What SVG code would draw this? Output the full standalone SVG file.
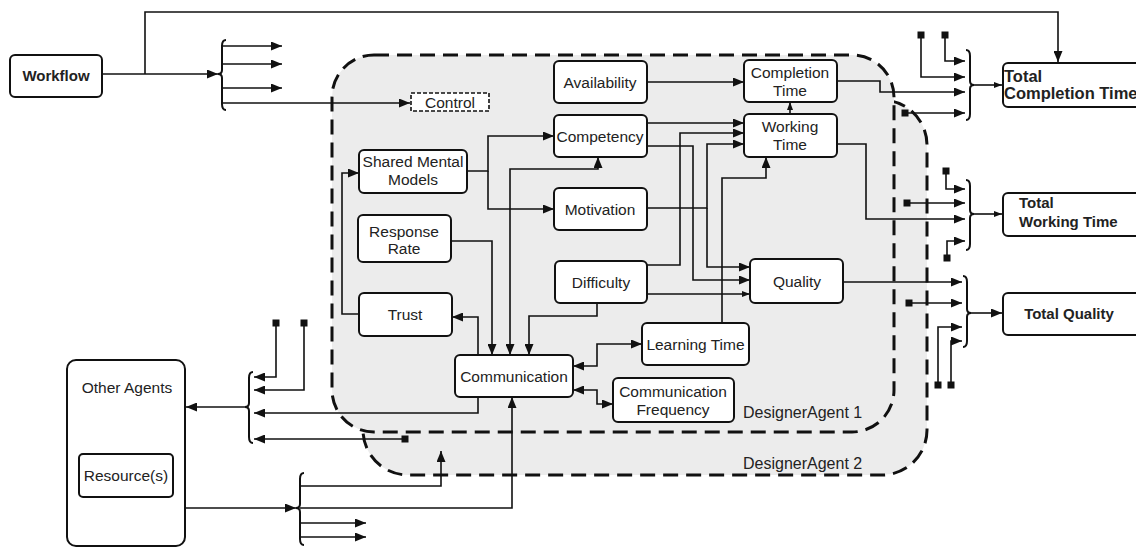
<svg xmlns="http://www.w3.org/2000/svg" width="1136" height="548" viewBox="0 0 1136 548">
<style>
.bg{fill:#fff}
.region{fill:#ececec;stroke:#111;stroke-width:3;stroke-dasharray:15 8}
.node{fill:#fff;stroke:#111;stroke-width:2}
.t{font-family:"Liberation Sans",Arial,sans-serif;font-size:15.5px;fill:#222;text-anchor:middle}
.b{font-family:"Liberation Sans",Arial,sans-serif;font-size:15px;font-weight:bold;fill:#222}
.lbl{font-family:"Liberation Sans",Arial,sans-serif;font-size:16px;fill:#222}
.c{fill:none;stroke:#111;stroke-width:1.6}
.a{marker-end:url(#ah)}
.s{marker-end:url(#sah)}
.d{marker-start:url(#ah);marker-end:url(#ah)}
.br{fill:none;stroke:#111;stroke-width:2}
.sq{fill:#111}
</style>
<defs>
<marker id="ah" markerUnits="userSpaceOnUse" markerWidth="11" markerHeight="9" refX="11" refY="4.5" orient="auto-start-reverse"><path d="M0,0 L11,4.5 L0,9 z" fill="#111"/></marker>
<marker id="sah" markerUnits="userSpaceOnUse" markerWidth="8" markerHeight="6" refX="8" refY="3" orient="auto"><path d="M0,0 L8,3 L0,6 z" fill="#111"/></marker>
</defs>
<rect class="bg" width="1136" height="548"/>
<g id="designer-agent-2">
<rect class="region" x="363" y="100" width="564" height="375" rx="45"/>
<text class="lbl" x="743" y="469">DesignerAgent 2</text>
</g>
<g id="designer-agent-1">
<rect class="region" x="332" y="55" width="562" height="377" rx="42"/>
<text class="lbl" x="743" y="418">DesignerAgent 1</text>
</g>
<g id="connectors">
<path class="c a" d="M102,74 H218"/>
<path class="c a" d="M145,74 V12 H1058 V62"/>
<path class="br" d="M226,40 Q222,40 222,46 V70 Q222,74 218,74 Q222,74 222,78 V104 Q222,110 226,110"/>
<path class="c a" d="M222,46 H282"/>
<path class="c a" d="M222,64 H282"/>
<path class="c a" d="M222,88 H282"/>
<path class="c a" d="M222,103 H410"/>
<path class="c a" d="M647,82 H744"/>
<path class="c s" d="M790,114 V102"/>
<path class="c a" d="M837,81 H880 V92 H965"/>
<path class="c a" d="M921,35 V77 H965"/>
<path class="c a" d="M945,35 V61 H965"/>
<path class="c a" d="M905,113 H965"/>
<path class="br" d="M966,50 Q970,50 970,56 V81 Q970,85 974,85 Q970,85 970,89 V114 Q970,120 966,120"/>
<path class="c s" d="M974,85 H1002"/>
<path class="c a" d="M837,144 H866 V219 H965"/>
<path class="c a" d="M946,171 V189 H965"/>
<path class="c a" d="M907,203 H965"/>
<path class="c a" d="M947,258 V241 H965"/>
<path class="br" d="M966,180 Q970,180 970,186 V210 Q970,214 974,214 Q970,214 970,218 V244 Q970,250 966,250"/>
<path class="c s" d="M974,214 H1002"/>
<path class="c a" d="M843,282 H962"/>
<path class="c a" d="M909,303 H962"/>
<path class="c a" d="M938,385 V327 H962"/>
<path class="c a" d="M951,385 V341 H962"/>
<path class="br" d="M963,276 Q967,276 967,282 V309 Q967,313 971,313 Q967,313 967,317 V341 Q967,347 963,347"/>
<path class="c a" d="M971,313 H1002"/>
<path class="c a" d="M647,123 H744"/>
<path class="c a" d="M647,265 H680 V133 H744"/>
<path class="c a" d="M647,208 H707 V144 H744"/>
<path class="c a" d="M707,208 V267 H750"/>
<path class="c a" d="M647,146 H693 V280 H750"/>
<path class="c s" d="M647,294 H750"/>
<path class="c a" d="M722,323 V178 H766 V157"/>
<path class="c a" d="M467,171 H488 V136 H554"/>
<path class="c a" d="M488,171 V209 H554"/>
<path class="c a" d="M359,314 H342 V173 H359"/>
<path class="c a" d="M478,355 V317 H452"/>
<path class="c a" d="M451,241 H492 V355"/>
<path class="c d" d="M510,355 V169 H598 V157"/>
<path class="c a" d="M597,303 V316 H529 V355"/>
<path class="c d" d="M573,366 H597 V344 H642"/>
<path class="c d" d="M573,390 H597 V404 H613"/>
<path class="c a" d="M478,397 V413 H254"/>
<path class="c a" d="M276,323 V377 H254"/>
<path class="c a" d="M304,323 V390 H254"/>
<path class="c a" d="M405,439 H254"/>
<path class="br" d="M253,372 Q249,372 249,378 V403 Q249,407 245,407 Q249,407 249,411 V437 Q249,443 253,443"/>
<path class="c a" d="M245,407 H186"/>
<path class="c a" d="M185,508 H296"/>
<path class="br" d="M304,473 Q300,473 300,479 V504 Q300,508 296,508 Q300,508 300,512 V539 Q300,545 304,545"/>
<path class="c a" d="M300,486 H441 V451"/>
<path class="c a" d="M300,508 H512 V397"/>
<path class="c a" d="M300,523 H366"/>
<path class="c a" d="M300,537 H366"/>
<rect class="sq" x="917.5" y="31.5" width="7" height="7"/>
<rect class="sq" x="941.5" y="31.5" width="7" height="7"/>
<rect class="sq" x="901.5" y="109.5" width="7" height="7"/>
<rect class="sq" x="942.5" y="167.5" width="7" height="7"/>
<rect class="sq" x="903.5" y="199.5" width="7" height="7"/>
<rect class="sq" x="943.5" y="254.5" width="7" height="7"/>
<rect class="sq" x="905.5" y="299.5" width="7" height="7"/>
<rect class="sq" x="934.5" y="381.5" width="7" height="7"/>
<rect class="sq" x="947.5" y="381.5" width="7" height="7"/>
<rect class="sq" x="272.5" y="319.5" width="7" height="7"/>
<rect class="sq" x="300.5" y="319.5" width="7" height="7"/>
<rect class="sq" x="401.5" y="435.5" width="7" height="7"/>
</g>
<g id="workflow"><rect class="node" x="10" y="55" width="92" height="42" rx="5"/><text class="b" x="56" y="81" text-anchor="middle">Workflow</text></g>
<g id="control"><rect x="411" y="93" width="78" height="18" fill="#fff" stroke="#111" stroke-width="1.6" stroke-dasharray="4 2"/><text class="t" x="450" y="107.5">Control</text></g>
<g id="availability"><rect class="node" x="554" y="61" width="93" height="42" rx="5"/><text class="t" x="600" y="87.5">Availability</text></g>
<g id="competency"><rect class="node" x="554" y="115" width="93" height="42" rx="5"/><text class="t" x="600" y="141.5">Competency</text></g>
<g id="shared-mental-models"><rect class="node" x="359" y="150" width="108" height="43" rx="5"/><text class="t" x="413" y="167">Shared Mental</text><text class="t" x="413" y="185">Models</text></g>
<g id="motivation"><rect class="node" x="554" y="188" width="93" height="42" rx="5"/><text class="t" x="600" y="214.5">Motivation</text></g>
<g id="response-rate"><rect class="node" x="358" y="215" width="93" height="47" rx="5"/><text class="t" x="404" y="237">Response</text><text class="t" x="404" y="254">Rate</text></g>
<g id="difficulty"><rect class="node" x="555" y="261" width="92" height="42" rx="5"/><text class="t" x="601" y="287.5">Difficulty</text></g>
<g id="trust"><rect class="node" x="359" y="293" width="93" height="43" rx="5"/><text class="t" x="405" y="319.5">Trust</text></g>
<g id="communication"><rect class="node" x="455" y="355" width="118" height="42" rx="5"/><text class="t" x="514" y="381.5">Communication</text></g>
<g id="learning-time"><rect class="node" x="642" y="323" width="107" height="42" rx="5"/><text class="t" x="695.5" y="349.5">Learning Time</text></g>
<g id="communication-frequency"><rect class="node" x="613" y="378" width="121" height="44" rx="5"/><text class="t" x="673" y="397">Communication</text><text class="t" x="673" y="415">Frequency</text></g>
<g id="completion-time"><rect class="node" x="744" y="60" width="93" height="42" rx="5"/><text class="t" x="790" y="77.5">Completion</text><text class="t" x="790" y="95.5">Time</text></g>
<g id="working-time"><rect class="node" x="744" y="114" width="93" height="43" rx="5"/><text class="t" x="790" y="131.5">Working</text><text class="t" x="790" y="149.5">Time</text></g>
<g id="quality"><rect class="node" x="750" y="259" width="93" height="44" rx="5"/><text class="t" x="797" y="286.5">Quality</text></g>
<g id="total-completion-time"><rect class="node" x="1003" y="63" width="140" height="44" rx="5"/><text class="b" x="1004" y="82" style="font-size:16.5px">Total</text><text class="b" x="1004" y="99" style="font-size:16.5px">Completion Time</text></g>
<g id="total-working-time"><rect class="node" x="1003" y="193" width="140" height="43" rx="5"/><text class="b" x="1019" y="208">Total</text><text class="b" x="1019" y="227">Working Time</text></g>
<g id="total-quality"><rect class="node" x="1003" y="293" width="140" height="42" rx="5"/><text class="b" x="1069" y="319" text-anchor="middle">Total Quality</text></g>
<g id="other-agents"><rect class="node" x="67" y="360" width="118" height="186" rx="9"/><text class="t" x="127" y="393">Other Agents</text></g>
<g id="resources"><rect class="node" x="79" y="454" width="94" height="43" rx="4"/><text class="t" x="126" y="480.5">Resource(s)</text></g>
</svg>
